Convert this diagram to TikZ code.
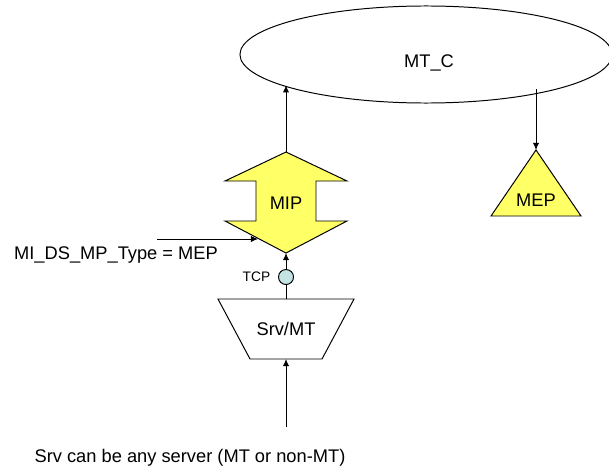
\documentclass[tikz,border=0pt]{standalone}
\usepackage{fontspec}
\setmainfont{Liberation Sans}
\usepackage{tikz}
\usetikzlibrary{arrows.meta, shapes.geometric}
\definecolor{mipyellow}{RGB}{255,255,102}
\definecolor{tcpblue}{RGB}{196,228,228}

\begin{document}
\begin{tikzpicture}[x=0.025cm,y=-0.025cm,line width=0.7pt,
  font=\fontsize{13}{15}\selectfont]
 \tikzstyle{mtcbox}=[ellipse,draw=black,minimum width=9.3cm,
   minimum height=2.425cm,inner sep=0pt]
 \tikzstyle{yellowshape}=[draw=black,fill=mipyellow,line join=miter]
 \tikzstyle{flow}=[-{Latex[length=5pt,width=4.5pt]}]
 \useasboundingbox (0,0) rectangle (609,473);
 \node (mtc) [mtcbox] at (426,54.5) {};
 \node (mtclabel) at (429,63) {MT\_C};
 \draw[yellowshape] (286,152) -- (347,181) -- (316,181) -- (316,221)
   -- (347,221) -- (286,253) -- (225,221) -- (256,221) -- (256,181)
   -- (225,181) -- cycle;
 \node (mip) at (286,203) {MIP};
 \coordinate (miptop) at (286,152);
 \coordinate (mipbot) at (286,253);
 \coordinate (mipleft) at (258,239);
 \draw[yellowshape] (536,150) -- (581,216) -- (491,216) -- cycle;
 \node (mep) at (536,200) {MEP};
 \coordinate (meptop) at (536,150);
 \draw (218,299) -- (354,299) -- (322,359) -- (250,359) -- cycle;
 \node (srv) at (286,329) {Srv/MT};
 \coordinate (srvtop) at (286,299);
 \coordinate (srvbot) at (286,359);
 \node (tcp) [circle,draw=black,fill=tcpblue,minimum size=0.375cm,
   inner sep=0pt] at (286,277) {};
 \node (tcplabel) at (256.5,277) {\fontsize{9.8}{11}\selectfont TCP};
 \coordinate (typein) at (157,239);
 \node (typelabel) at (116,255) {MI\_DS\_MP\_Type = MEP};
 \coordinate (srvin) at (286,427);
 \node (note) at (190,458) {Srv can be any server (MT or non-MT)};
 \draw[flow] (miptop) -- (miptop |- mtc.192.8);
 \draw[flow] (meptop |- mtc.345) -- (meptop);
 \draw[flow] (typein) -- (mipleft);
 \draw[flow] (tcp.north) -- (mipbot);
 \draw (srvtop) -- (tcp.south);
 \draw[flow] (srvin) -- (srvbot);
\end{tikzpicture}
\end{document}
